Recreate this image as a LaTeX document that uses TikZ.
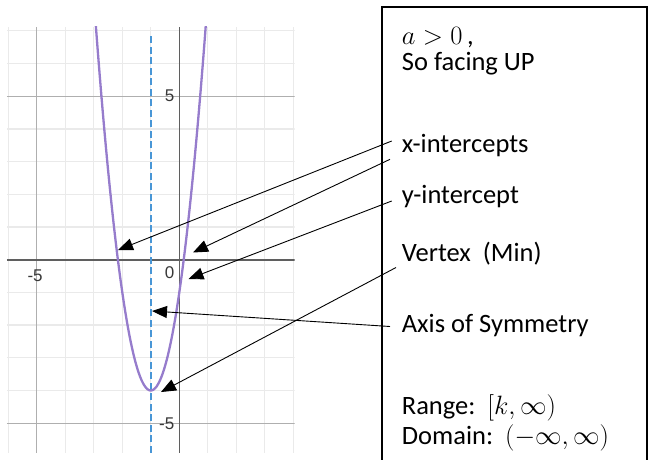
\RequirePackage{fix-cm}
\documentclass[tikz,border=0pt]{standalone}
\usepackage{fontspec}
\setmainfont{Carlito}
\newfontfamily\graphfont{Liberation Sans}
\usetikzlibrary{arrows.meta}

\definecolor{curvepurple}{RGB}{150,124,204}
\definecolor{symblue}{RGB}{72,150,214}
\definecolor{minorgrid}{RGB}{234,234,234}
\definecolor{majorgrid}{RGB}{175,175,175}
\definecolor{axisgray}{RGB}{95,95,95}

\begin{document}
\begin{tikzpicture}[x=1pt, y=-1pt,
  lbl/.style={anchor=base west, inner sep=0pt, font=\fontsize{26.5}{30}\selectfont},
  arr/.style={-{Triangle[length=15pt,width=12pt]}, line width=0.9pt},
  ticklbl/.style={inner sep=0pt, text=black!78, font=\graphfont\fontsize{17}{19}\selectfont},
  minorline/.style={minorgrid, line width=1.3pt},
  majorline/.style={majorgrid, line width=1.3pt},
  axisline/.style={axisgray, line width=1.6pt},
]
  \useasboundingbox (0,0) rectangle (653,459);

  % Graph of y = 3x^2 + 6x - 1
  \begin{scope}[shift={(179.3,259.7)}, x=28.5pt, y=32.7pt]
    \clip (-6.05,-5.9) rectangle (4.05,7.13);
    \foreach \i in {-6,...,4}
      \draw[minorline] (\i,-5.9) -- (\i,7.13);
    \foreach \j in {-5,...,7}
      \draw[minorline] (-6.05,\j) -- (4.05,\j);
    \draw[majorline] (-5,-5.9) -- (-5,7.13);
    \draw[majorline] (-6.05,5) -- (4.05,5);
    \draw[majorline] (-6.05,-5) -- (4.05,-5);
    \draw[axisline] (0,-5.9) -- (0,7.13);
    \draw[axisline] (-6.05,0) -- (4.05,0);

    \node[ticklbl, anchor=east] (t5) at (-0.17,5) {5};
    \node[ticklbl, anchor=east] (t0) at (-0.17,-0.41) {0};
    \node[ticklbl] (tm5x) at (-5.06,-0.5) {-5};
    \node[ticklbl, anchor=east] (tm5y) at (-0.17,-5.02) {-5};

    \draw[symblue, line width=1.6pt, dash pattern=on 7pt off 3.5pt] (-1,-5.9) -- (-1,6.87);
    \draw[curvepurple, line width=2.3pt, domain=-2.95:0.95, samples=90, smooth]
      plot (\x, {3*(\x)^2+6*(\x)-1});
  \end{scope}

  % Text box
  \draw[line width=1.8pt] (382.2,470) -- (382.2,6.7) -- (647,6.7) -- (647,470);
  \node[lbl] (cond) at (401.7,44) {$a>0$\,,};
  \node[lbl] (face) at (401.7,70) {So facing UP};
  \node[lbl] (xint) at (401.7,152) {x-intercepts};
  \node[lbl] (yint) at (401.7,203) {y-intercept};
  \node[lbl] (vert) at (401.7,261) {Vertex\ \ (Min)};
  \node[lbl] (axis) at (401.7,332) {Axis of Symmetry};
  \node[lbl] (range) at (401.7,414) {Range:\ \ $[k,\infty)$};
  \node[lbl] (dom) at (401.7,444) {Domain:\ \ $(-\infty,\infty)$};

  % Arrow ends
  \coordinate (xl) at (118,250);
  \coordinate (xr) at (193,252.5);
  \coordinate (yc) at (188.5,279);
  \coordinate (vc) at (161,392);
  \coordinate (ac) at (152,311);
  \coordinate (xt1) at (391.7,141);
  \coordinate (xt2) at (390,159.3);
  \coordinate (yt) at (391.7,201);
  \coordinate (vt) at (396,267.5);
  \coordinate (at) at (390,326.5);

  \draw[arr] (xt1) -- (xl);
  \draw[arr] (xt2) -- (xr);
  \draw[arr] (yt) -- (yc);
  \draw[arr] (vt) -- (vc);
  \draw[arr] (at) -- (ac);
\end{tikzpicture}
\end{document}
